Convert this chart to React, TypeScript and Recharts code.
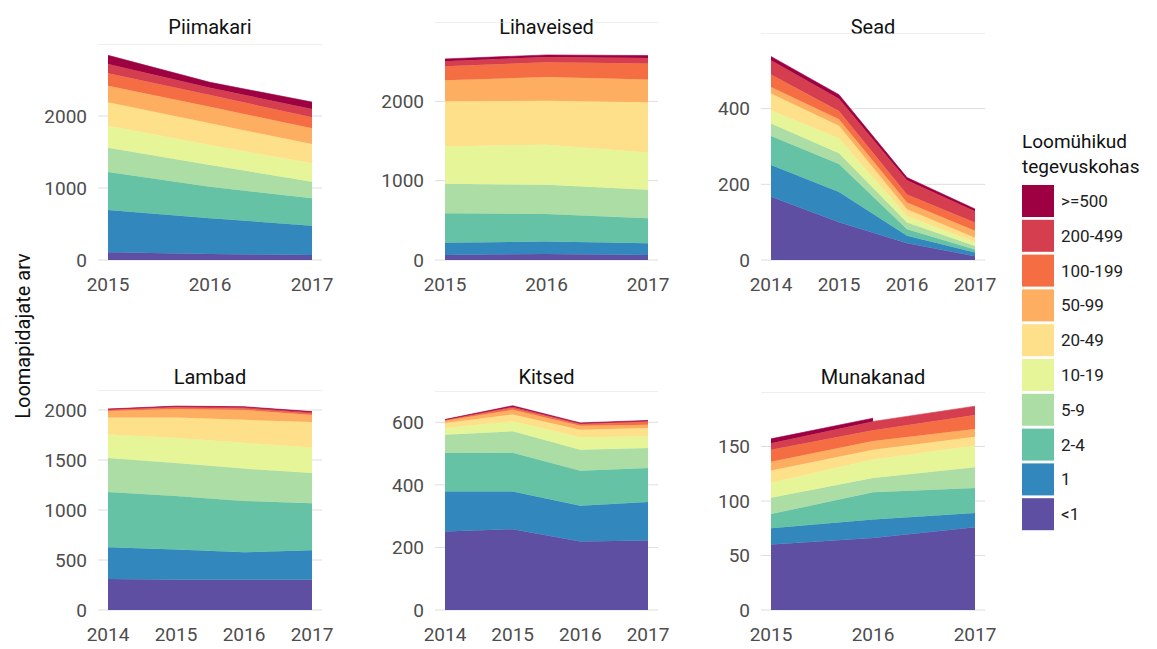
import { AreaChart, Area, XAxis, YAxis, CartesianGrid } from 'recharts'

// loomühikute klassid alt üles (virna järjekord)
const sizeClasses = ['<1', '1', '2-4', '5-9', '10-19', '20-49', '50-99', '100-199', '200-499', '>=500']
const classColors = ['#5E4FA2', '#3288BD', '#66C2A5', '#ABDDA4', '#E6F598', '#FEE08B', '#FDAE61', '#F46D43', '#D53E4F', '#9E0142']

const years3 = [2015, 2016, 2017]
const years4 = [2014, 2015, 2016, 2017]

// iga rida = üks klass (<1 ... >=500), veerud = aastad
const piimakariValues = [
  [107, 83, 69],
  [587, 496, 408],
  [528, 440, 379],
  [338, 300, 232],
  [306, 278, 255],
  [324, 301, 268],
  [231, 232, 218],
  [172, 162, 152],
  [129, 101, 116],
  [121, 75, 97],
]

const lihaveisedValues = [
  [63, 76, 63],
  [156, 156, 148],
  [370, 349, 315],
  [371, 366, 358],
  [472, 506, 472],
  [568, 555, 631],
  [265, 299, 287],
  [177, 186, 202],
  [63, 67, 71],
  [30, 25, 30],
]

const seadValues = [
  [167, 100, 44, 10],
  [84, 80, 20, 10],
  [77, 74, 17, 8],
  [33, 28, 18, 9],
  [35, 40, 17, 10],
  [44, 33, 18, 12],
  [17, 17, 18, 18],
  [33, 22, 21, 22],
  [38, 32, 38, 30],
  [10, 11, 7, 6],
]

const lambadValues = [
  [309, 302, 302, 302],
  [318, 302, 275, 295],
  [554, 537, 514, 470],
  [339, 329, 323, 302],
  [235, 250, 259, 255],
  [170, 205, 229, 255],
  [65, 85, 98, 72],
  [10, 16, 16, 13],
  [7, 8, 12, 14],
  [3, 5, 5, 6],
]

const kitsedValues = [
  [251, 258, 219, 222],
  [128, 121, 114, 123],
  [123, 124, 112, 109],
  [58, 68, 67, 64],
  [22, 32, 40, 37],
  [16, 22, 24, 27],
  [7, 15, 13, 10],
  [2, 6, 5, 10],
  [1, 4, 2, 2],
  [1, 3, 2, 2],
]

const munakanadValues: (number | null)[][] = [
  [60, 66, 76],
  [15, 17, 13],
  [13, 25, 23],
  [15, 13, 19],
  [14, 17, 20],
  [11, 9, 8],
  [8, 8, 7],
  [11, 10, 13],
  [6, 8, 8],
  [4, 3, null],
]

const panels = [
  { title: 'Piimakari', years: years3, values: piimakariValues, yMax: 3000, yTicks: [0, 1000, 2000], left: 98, right: 322, top: 44, base: 260 },
  { title: 'Lihaveised', years: years3, values: lihaveisedValues, yMax: 3000, yTicks: [0, 1000, 2000], left: 435, right: 658, top: 22, base: 260 },
  { title: 'Sead', years: years4, values: seadValues, yMax: 600, yTicks: [0, 200, 400], left: 761, right: 985, top: 33, base: 260 },
  { title: 'Lambad', years: years4, values: lambadValues, yMax: 2200, yTicks: [0, 500, 1000, 1500, 2000], left: 98, right: 322, top: 390, base: 610 },
  { title: 'Kitsed', years: years4, values: kitsedValues, yMax: 700, yTicks: [0, 200, 400, 600], left: 435, right: 658, top: 391, base: 610 },
  { title: 'Munakanad', years: years3, values: munakanadValues, yMax: 200, yTicks: [0, 50, 100, 150], left: 761, right: 985, top: 392, base: 610 },
]

const AXIS_W = 60
const AXIS_H = 40
const RIGHT_PAD = 30
const tickStyle = { fill: '#4D4D4D', fontSize: 19, fontFamily: 'Roboto' }

function buildRows(years: number[], values: (number | null)[][]) {
  return years.map((year, j) => {
    const row: Record<string, number | null> = { year }
    values.forEach((v, i) => { row[`c${i}`] = v[j] })
    return row
  })
}

function Panel({ p }: { p: typeof panels[number] }) {
  const width = p.right - p.left + AXIS_W + RIGHT_PAD
  const height = p.base - p.top + AXIS_H
  const data = buildRows(p.years, p.values)
  return (
    <div style={{ position: 'absolute', left: p.left - AXIS_W, top: p.top, width, height }}>
      <AreaChart width={width} height={height} data={data} margin={{ top: 0, right: RIGHT_PAD, bottom: 0, left: 0 }}>
        <CartesianGrid vertical={false} stroke="#DEDEDE" strokeWidth={1} />
        <XAxis
          dataKey="year"
          type="number"
          domain={[p.years[0], p.years[p.years.length - 1]]}
          ticks={p.years}
          padding={{ left: 10, right: 10 }}
          height={AXIS_H}
          axisLine={false}
          tickLine={false}
          tickSize={0}
          tickMargin={18}
          tick={tickStyle}
        />
        <YAxis
          type="number"
          domain={[0, p.yMax]}
          ticks={p.yTicks}
          width={AXIS_W}
          axisLine={false}
          tickLine={false}
          tickSize={0}
          tickMargin={11}
          tick={tickStyle}
        />
        {sizeClasses.map((c, i) => (
          <Area
            key={c}
            name={c}
            dataKey={`c${i}`}
            stackId="s"
            type="linear"
            fill={classColors[i]}
            fillOpacity={1}
            stroke={classColors[i]}
            strokeWidth={0.6}
            dot={false}
            activeDot={false}
            isAnimationActive={false}
          />
        ))}
      </AreaChart>
    </div>
  )
}

export default function App() {
  const legendTop = 185
  const legendStep = 34.8
  const legendItems = [...sizeClasses].reverse()
  const legendColors = [...classColors].reverse()
  return (
    <div style={{ position: 'absolute', left: 0, top: 0, width: 1157, height: 649, background: '#fff', fontFamily: 'Roboto' }}>
      <svg width={1157} height={649} style={{ position: 'absolute', left: 0, top: 0 }}>
        {panels.map((p) => (
          <text
            key={p.title}
            x={(p.left + p.right) / 2}
            y={p.base < 300 ? 34 : 384}
            textAnchor="middle"
            fontSize={20}
            fill="#111"
            fontFamily="Roboto"
          >
            {p.title}
          </text>
        ))}
        <text transform="translate(30,336) rotate(-90)" textAnchor="middle" fontSize={20} fill="#111" fontFamily="Roboto">
          Loomapidajate arv
        </text>
        <text x={1022} y={148} fontSize={19} fill="#111" fontFamily="Roboto">Loomühikud</text>
        <text x={1022} y={173} fontSize={19} fill="#111" fontFamily="Roboto">tegevuskohas</text>
        {legendItems.map((c, i) => (
          <g key={c}>
            <rect x={1022} y={legendTop + i * legendStep} width={32} height={32} fill={legendColors[i]} />
            <text
              x={1061}
              y={legendTop + i * legendStep + 16}
              dy="0.35em"
              fontSize={17}
              fill="#222"
              fontFamily="Roboto"
            >
              {c}
            </text>
          </g>
        ))}
      </svg>
      {panels.map((p) => (
        <Panel key={p.title} p={p} />
      ))}
    </div>
  )
}
